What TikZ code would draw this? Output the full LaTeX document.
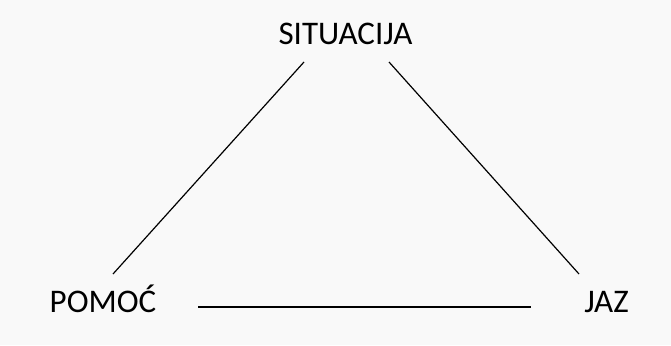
\documentclass[tikz,border=0pt]{standalone}
\usepackage{fontspec}
\setmainfont{Carlito}
\definecolor{bg}{HTML}{F9F9F9}
\begin{document}
\begin{tikzpicture}[x=1pt,y=-1pt,
  lbl/.style={font=\fontsize{33}{38}\selectfont, inner sep=0pt, anchor=base},
  conn/.style={draw=black, line width=1.2pt}]
\fill[bg] (0,0) rectangle (671,345);
\useasboundingbox (0,0) rectangle (671,345);
\node[lbl] (sit) at (345.5,44.5) {SITUACIJA};
\node[lbl] (pom) at (103,312) {POMOĆ};
\node[lbl] (jaz) at (606.5,312) {JAZ};
\coordinate (l1) at (113,274);
\coordinate (l2) at (304,62);
\coordinate (r1) at (389,62);
\coordinate (r2) at (579,274);
\coordinate (b1) at (198,307);
\coordinate (b2) at (531,307);
\draw[conn] (l1) -- (l2);
\draw[conn] (r1) -- (r2);
\draw[conn] (b1) -- (b2);
\end{tikzpicture}
\end{document}
